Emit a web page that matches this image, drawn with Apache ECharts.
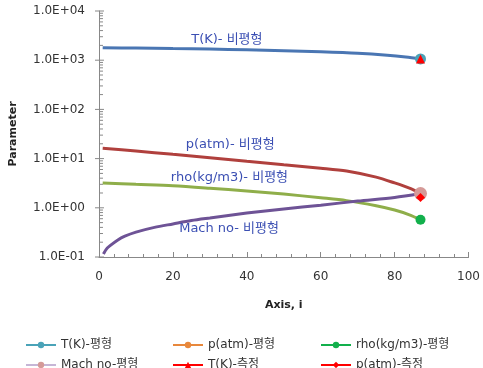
<!DOCTYPE html>
<html><head><meta charset="utf-8">
<script src="https://cdn.jsdelivr.net/npm/echarts@6/dist/echarts.min.js"></script>
<style>html,body{margin:0;padding:0;background:#fff}#c{width:483px;height:368px}</style>
</head><body><div id="c"></div>
<script>
// Non-equilibrium profiles (x = axis position i)
const tX = [1, 10, 20, 30, 40, 50, 60, 70, 78, 83, 87];
const tVal = [1790, 1760, 1720, 1680, 1630, 1560, 1480, 1380, 1260, 1160, 1060];
const pX = [1, 10, 20, 30, 40, 50, 60, 67, 75, 80, 84, 87];
const pVal = [16.3, 14.3, 12.2, 10.4, 8.8, 7.5, 6.4, 5.6, 4.2, 3.2, 2.5, 1.95];
const rhoX = [1, 10, 20, 30, 40, 50, 60, 67, 75, 80, 84, 87];
const rhoVal = [3.2, 3.0, 2.8, 2.5, 2.2, 1.9, 1.6, 1.4, 1.1, 0.9, 0.72, 0.57];
const machX = [1.2, 2, 3, 5, 7, 10, 15, 20, 25, 30, 40, 50, 60, 70, 80, 87];
const machVal = [0.115, 0.145, 0.17, 0.22, 0.265, 0.32, 0.40, 0.47, 0.55, 0.62, 0.78, 0.95, 1.13, 1.37, 1.62, 1.95];
// Equilibrium / measured exit values
const exitX = 87;
const eqT = 1060, eqP = 1.95, eqRho = 0.57, eqMach = 1.95;
const measT = 1060, measP = 1.62;
// Axis ticks
const yMajorTicks = [0.1, 1, 10, 100, 1000, 10000];
const yMinorFactors = [2, 3, 4, 5, 6, 7, 8, 9];
const legendNames = ['T(K)-평형', 'p(atm)-평형', 'rho(kg/m3)-평형', 'Mach no-평형', 'T(K)-측정', 'p(atm)-측정'];

const zip = (xs, ys) => xs.map((x, i) => [x, ys[i]]);
const FONT = "'DejaVu Sans','Noto Sans CJK KR',sans-serif";
const tickData = [];
yMajorTicks.forEach((v, i) => {
  tickData.push([0, v, 1]);
  if (i < yMajorTicks.length - 1) yMinorFactors.forEach(f => tickData.push([0, v * f, 0]));
});
const fmt = v => {
  const e = Math.round(Math.log10(v));
  const s = e < 0 ? '-' : '+';
  return '1.0E' + s + String(Math.abs(e)).padStart(2, '0');
};
const lblColor = '#3b4fb3';
const annot = (name, x, y) => ({ name, coord: [x, y], value: name });
const mp = (name, x, y) => ({
  symbol: 'rect', symbolSize: 1, itemStyle: { color: 'transparent' },
  label: { show: true, position: 'inside', color: lblColor, fontSize: 13, formatter: '{b}', fontFamily: FONT },
  data: [annot(name, x, y)]
});
const legendPos = [[25, 339], [172, 339], [320, 339], [25, 359], [172, 359], [320, 359]];

const chart = echarts.init(document.getElementById('c'));
chart.setOption({
  animation: false,
  textStyle: { fontFamily: FONT },
  grid: { left: 97, right: 11, top: 11, bottom: 111, containLabel: false },
  xAxis: {
    type: 'value', min: 0, max: 100, interval: 20,
    name: 'Axis, i', nameLocation: 'middle', nameGap: 43,
    nameTextStyle: { fontWeight: 'bold', fontSize: 11, color: '#222', fontFamily: FONT },
    axisLine: { lineStyle: { color: '#888', width: 1 } },
    axisTick: { inside: true, length: 5, lineStyle: { color: '#888' } },
    minorTick: { show: true, splitNumber: 5, length: 3, lineStyle: { color: '#888' } },
    splitLine: { show: false },
    axisLabel: { fontSize: 12, color: '#333', margin: 14, fontFamily: FONT }
  },
  yAxis: {
    type: 'log', logBase: 10, min: 0.1, max: 10000,
    name: 'Parameter', nameLocation: 'middle', nameGap: 80, nameRotate: 90,
    nameTextStyle: { fontWeight: 'bold', fontSize: 11, color: '#222', fontFamily: FONT },
    axisLine: { show: true, lineStyle: { color: '#888', width: 1 } },
    axisTick: { show: false },
    splitLine: { show: false },
    axisLabel: { fontSize: 12, color: '#333', margin: 14, formatter: fmt, fontFamily: FONT }
  },
  legend: legendNames.map((n, i) => ({
    data: [n], left: legendPos[i][0], top: legendPos[i][1],
    itemWidth: 30, itemHeight: 8, padding: 0,
    textStyle: { fontSize: 12, color: '#333', fontFamily: FONT }
  })),
  series: [
    {
      type: 'custom', name: 'yticks', silent: true, data: tickData, z: 1,
      renderItem: (params, api) => {
        const p = api.coord([api.value(0), api.value(1)]);
        const major = api.value(2) === 1;
        return { type: 'line', shape: { x1: p[0] - (major ? 4 : 0), y1: p[1], x2: p[0] + (major ? 5 : 4), y2: p[1] },
          style: { stroke: '#888', lineWidth: 1 } };
      }
    },
    { type: 'line', name: 'T(K)-비평형', data: zip(tX, tVal), smooth: 0.3, showSymbol: false,
      lineStyle: { color: '#4a76b3', width: 3 }, itemStyle: { color: '#4a76b3' },
      markPoint: mp('T(K)- 비평형', 34.6, 2640) },
    { type: 'line', name: 'p(atm)-비평형', data: zip(pX, pVal), smooth: 0.3, showSymbol: false,
      lineStyle: { color: '#b0403d', width: 3 }, itemStyle: { color: '#b0403d' },
      markPoint: mp('p(atm)- 비평형', 35.5, 19) },
    { type: 'line', name: 'rho(kg/m3)-비평형', data: zip(rhoX, rhoVal), smooth: 0.3, showSymbol: false,
      lineStyle: { color: '#8fae4a', width: 3 }, itemStyle: { color: '#8fae4a' },
      markPoint: mp('rho(kg/m3)- 비평형', 35.3, 4.1) },
    { type: 'line', name: 'Mach no-비평형', data: zip(machX, machVal), smooth: 0.3, showSymbol: false,
      lineStyle: { color: '#6e5396', width: 3 }, itemStyle: { color: '#6e5396' },
      markPoint: mp('Mach no- 비평형', 35.2, 0.37) },
    { type: 'line', name: legendNames[0], data: [[exitX, eqT]], symbol: 'circle', symbolSize: 11,
      lineStyle: { color: '#4aa3b8', width: 2 }, itemStyle: { color: '#4aa3b8' } },
    { type: 'line', name: legendNames[1], data: [[exitX, eqP]], symbol: 'circle', symbolSize: 10,
      lineStyle: { color: '#e8883c', width: 2 }, itemStyle: { color: '#e8883c' } },
    { type: 'line', name: legendNames[2], data: [[exitX, eqRho]], symbol: 'circle', symbolSize: 10,
      lineStyle: { color: '#12b04c', width: 2 }, itemStyle: { color: '#12b04c' } },
    { type: 'line', name: legendNames[3], data: [[exitX, eqMach]], symbol: 'circle', symbolSize: 13,
      lineStyle: { color: '#c6b6d6', width: 2 }, itemStyle: { color: '#d59a98' } },
    { type: 'line', name: legendNames[4], data: [[exitX, measT]], symbol: 'triangle', symbolSize: 9,
      lineStyle: { color: '#ff0000', width: 2 }, itemStyle: { color: '#ff0000' } },
    { type: 'line', name: legendNames[5], data: [[exitX, measP]], symbol: 'diamond', symbolSize: 9,
      lineStyle: { color: '#ff0000', width: 2 }, itemStyle: { color: '#ff0000' } }
  ]
});
</script></body></html>
